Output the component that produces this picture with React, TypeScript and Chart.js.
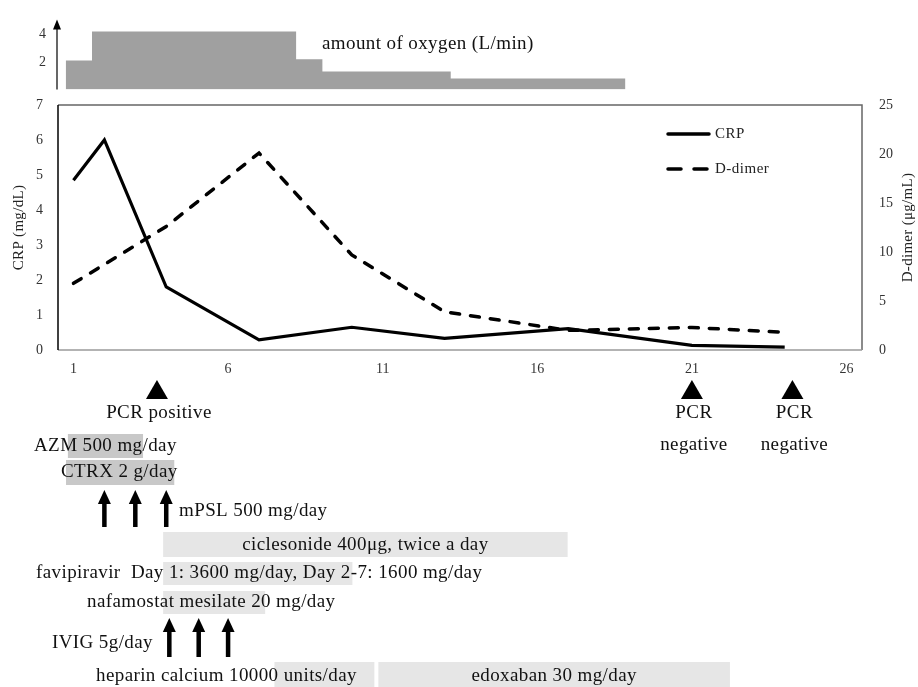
import React, { useEffect, useRef } from "react";
import { Chart, registerables } from "chart.js";
Chart.register(...registerables);

// ---------- data ----------
const CRP_DAYS = [1, 2, 4, 7, 10, 13, 17, 21, 24];
const CRP_VALUES = [4.85, 6.0, 1.8, 0.29, 0.65, 0.33, 0.61, 0.13, 0.08];
const DDIMER_DAYS = [1, 4, 7, 10, 13, 17, 21, 24];
const DDIMER_VALUES = [6.8, 12.6, 20.1, 9.7, 3.9, 2.0, 2.3, 1.8];
const X_TICKS = [1, 6, 11, 16, 21, 26];
const CRP_TICKS = [0, 1, 2, 3, 4, 5, 6, 7];
const DDIMER_TICKS = [0, 5, 10, 15, 20, 25];

// oxygen (L/min): step edges in days and level held from each edge
const O2_EDGES = [0.75, 1.6, 8.2, 9.05, 13.2, 18.85];
const O2_VALUES = [2.1, 4.2, 2.2, 1.3, 0.8, 0.8];
const O2_TICKS = [2, 4];

const PCR_DAYS = [3.7, 21.0, 24.25];
const PCR_LABELS = [["PCR positive"], ["PCR", "negative"], ["PCR", "negative"]];

const MPSL_DAYS = [2, 3, 4];
const IVIG_DAYS = [4.1, 5.05, 6.0];

const THERAPY_TEXT = [
  "AZM 500 mg/day",
  "CTRX 2 g/day",
  "ciclesonide 400\u03bcg, twice a day",
  "favipiravir  Day 1: 3600 mg/day, Day 2-7: 1600 mg/day",
  "nafamostat mesilate 20 mg/day",
  "heparin calcium 10000 units/day",
  "edoxaban 30 mg/day",
];
const THERAPY_START = [0.82, 0.76, 3.9, 3.9, 3.9, 7.5, 10.86];
const THERAPY_END = [3.25, 4.26, 16.98, 10.02, 7.2, 10.73, 22.23];

// ---------- layout / style ----------
const FONT = '"Liberation Serif", "Times New Roman", serif';
const ANN_FONT = `19px ${FONT}`;
const ANN_SPACING = "0.4px";
const THERAPY_LAYOUT = [
  { top: 434, bottom: 458, textX: 34, textY: 446, fill: "#c8c8c8" },
  { top: 460, bottom: 485, textX: 61, textY: 472, fill: "#c8c8c8" },
  { top: 532, bottom: 557, textX: null, textY: 545, fill: "#e6e6e6" },
  { top: 562, bottom: 585, textX: 36, textY: 573, fill: "#e6e6e6" },
  { top: 591, bottom: 614, textX: 87, textY: 602, fill: "#e6e6e6" },
  { top: 662, bottom: 687, textX: 96, textY: 676, fill: "#e6e6e6" },
  { top: 662, bottom: 687, textX: null, textY: 676, fill: "#e6e6e6" },
];

function drawArrow(ctx: CanvasRenderingContext2D, x: number, top: number, bottom: number) {
  const headW = 13, headH = 14, shaft = 4.5;
  ctx.fillStyle = "#000";
  ctx.fillRect(x - shaft / 2, top + headH - 1, shaft, bottom - top - headH + 1);
  ctx.beginPath();
  ctx.moveTo(x, top);
  ctx.lineTo(x + headW / 2, top + headH);
  ctx.lineTo(x - headW / 2, top + headH);
  ctx.closePath();
  ctx.fill();
}

const mainAnnotations = {
  id: "mainAnnotations",
  afterDraw(chart: any) {
    const { ctx, chartArea: a, scales } = chart;
    const xs = scales.x;
    ctx.save();
    // plot frame
    ctx.lineWidth = 1.5;
    ctx.strokeStyle = "#666";
    ctx.beginPath();
    ctx.moveTo(a.left, a.top);
    ctx.lineTo(a.right, a.top);
    ctx.lineTo(a.right, a.bottom);
    ctx.stroke();
    ctx.strokeStyle = "#9a9a9a";
    ctx.beginPath();
    ctx.moveTo(a.left, a.bottom);
    ctx.lineTo(a.right, a.bottom);
    ctx.stroke();
    ctx.strokeStyle = "#000";
    ctx.beginPath();
    ctx.moveTo(a.left, a.top);
    ctx.lineTo(a.left, a.bottom);
    ctx.stroke();

    // legend
    const lx1 = a.left + 610, lx2 = a.left + 651;
    ctx.lineWidth = 3.5;
    ctx.lineCap = "round";
    ctx.strokeStyle = "#000";
    ctx.beginPath();
    ctx.moveTo(lx1, a.top + 29);
    ctx.lineTo(lx2, a.top + 29);
    ctx.stroke();
    ctx.setLineDash([13, 13]);
    ctx.beginPath();
    ctx.moveTo(lx1, a.top + 64);
    ctx.lineTo(lx2, a.top + 64);
    ctx.stroke();
    ctx.setLineDash([]);
    ctx.fillStyle = "#222";
    ctx.font = `15px ${FONT}`;
    (ctx as any).letterSpacing = "0.5px";
    ctx.textAlign = "left";
    ctx.textBaseline = "middle";
    ctx.fillText("CRP", lx2 + 6, a.top + 29);
    ctx.fillText("D-dimer", lx2 + 6, a.top + 64);

    // axis titles
    const midY = (a.top + a.bottom) / 2;
    (ctx as any).letterSpacing = "0.3px";
    ctx.textAlign = "center";
    ctx.save();
    ctx.translate(19, midY);
    ctx.rotate(-Math.PI / 2);
    ctx.fillText("CRP (mg/dL)", 0, 0);
    ctx.restore();
    ctx.save();
    ctx.translate(908, midY);
    ctx.rotate(-Math.PI / 2);
    ctx.fillText("D-dimer (\u03bcg/mL)", 0, 0);
    ctx.restore();

    // therapy boxes
    THERAPY_TEXT.forEach((_, i) => {
      const L = THERAPY_LAYOUT[i];
      const x1 = xs.getPixelForValue(THERAPY_START[i]);
      const x2 = xs.getPixelForValue(THERAPY_END[i]);
      ctx.fillStyle = L.fill;
      ctx.fillRect(x1, L.top, x2 - x1, L.bottom - L.top);
    });
    ctx.fillStyle = "#111";
    ctx.font = ANN_FONT;
    (ctx as any).letterSpacing = ANN_SPACING;
    THERAPY_TEXT.forEach((t, i) => {
      const L = THERAPY_LAYOUT[i];
      if (L.textX === null) {
        const x1 = xs.getPixelForValue(THERAPY_START[i]);
        const x2 = xs.getPixelForValue(THERAPY_END[i]);
        ctx.textAlign = "center";
        ctx.fillText(t, (x1 + x2) / 2, L.textY);
      } else {
        ctx.textAlign = "left";
        ctx.fillText(t, L.textX, L.textY);
      }
    });

    // PCR triangles
    PCR_DAYS.forEach((d, i) => {
      const px = xs.getPixelForValue(d);
      ctx.fillStyle = "#000";
      ctx.beginPath();
      ctx.moveTo(px, 380);
      ctx.lineTo(px + 11, 399);
      ctx.lineTo(px - 11, 399);
      ctx.closePath();
      ctx.fill();
      ctx.fillStyle = "#111";
      ctx.textAlign = "center";
      PCR_LABELS[i].forEach((s, j) => ctx.fillText(s, px + 2, 413 + j * 32));
    });

    // mPSL arrows
    MPSL_DAYS.forEach((d) => drawArrow(ctx, xs.getPixelForValue(d), 490, 527));
    ctx.fillStyle = "#111";
    ctx.textAlign = "left";
    ctx.fillText("mPSL 500 mg/day", 179, 511);

    // IVIG arrows
    IVIG_DAYS.forEach((d) => drawArrow(ctx, xs.getPixelForValue(d), 618, 657));
    ctx.fillStyle = "#111";
    ctx.textAlign = "left";
    ctx.fillText("IVIG 5g/day", 52, 643);

    ctx.restore();
  },
};

const o2Annotations = {
  id: "o2Annotations",
  afterDraw(chart: any) {
    const { ctx, chartArea: a } = chart;
    ctx.save();
    const x = a.left - 1;
    ctx.strokeStyle = "#000";
    ctx.lineWidth = 1.2;
    ctx.beginPath();
    ctx.moveTo(x, a.bottom);
    ctx.lineTo(x, a.top + 6);
    ctx.stroke();
    ctx.fillStyle = "#000";
    ctx.beginPath();
    ctx.moveTo(x, a.top - 1);
    ctx.lineTo(x + 4, a.top + 9);
    ctx.lineTo(x - 4, a.top + 9);
    ctx.closePath();
    ctx.fill();
    ctx.fillStyle = "#111";
    ctx.font = ANN_FONT;
    (ctx as any).letterSpacing = ANN_SPACING;
    ctx.textAlign = "left";
    ctx.textBaseline = "middle";
    ctx.fillText("amount of oxygen (L/min)", 322, 44);
    ctx.restore();
  },
};

export default function App() {
  const mainRef = useRef<HTMLCanvasElement | null>(null);
  const o2Ref = useRef<HTMLCanvasElement | null>(null);

  useEffect(() => {
    const tickFont = { family: FONT, size: 14 };
    const main = new Chart(mainRef.current as HTMLCanvasElement, {
      type: "line",
      data: {
        datasets: [
          {
            label: "CRP",
            data: CRP_DAYS.map((d, i) => ({ x: d, y: CRP_VALUES[i] })),
            borderColor: "#000",
            borderWidth: 3.2,
            pointRadius: 0,
            tension: 0,
            fill: false,
            yAxisID: "y",
          },
          {
            label: "D-dimer",
            data: DDIMER_DAYS.map((d, i) => ({ x: d, y: DDIMER_VALUES[i] })),
            borderColor: "#000",
            borderWidth: 3.5,
            borderDash: [9, 11],
            borderCapStyle: "round",
            pointRadius: 0,
            tension: 0,
            fill: false,
            yAxisID: "y1",
          },
        ],
      },
      options: {
        responsive: false,
        animation: false,
        events: [],
        layout: { padding: { top: 105, bottom: 307, left: 0, right: 0 } },
        plugins: { legend: { display: false }, tooltip: { enabled: false } },
        scales: {
          x: {
            type: "linear",
            min: 0.5,
            max: 26.5,
            afterBuildTicks: (s: any) => {
              s.ticks = X_TICKS.map((v) => ({ value: v }));
            },
            afterFit: (s: any) => {
              s.height = 30;
            },
            grid: { display: false, drawTicks: false },
            border: { display: false },
            ticks: { font: tickFont, color: "#333", padding: 11, maxRotation: 0, autoSkip: false },
          },
          y: {
            position: "left",
            min: 0,
            max: 7,
            afterBuildTicks: (s: any) => {
              s.ticks = CRP_TICKS.map((v) => ({ value: v }));
            },
            afterFit: (s: any) => {
              s.width = 58;
            },
            grid: { display: false, drawTicks: false },
            border: { display: false },
            ticks: { font: tickFont, color: "#333", padding: 15 },
          },
          y1: {
            position: "right",
            min: 0,
            max: 25,
            afterBuildTicks: (s: any) => {
              s.ticks = DDIMER_TICKS.map((v) => ({ value: v }));
            },
            afterFit: (s: any) => {
              s.width = 56;
            },
            grid: { display: false, drawTicks: false },
            border: { display: false },
            ticks: { font: tickFont, color: "#333", padding: 17 },
          },
        },
      },
      plugins: [mainAnnotations],
    } as any);

    const o2 = new Chart(o2Ref.current as HTMLCanvasElement, {
      type: "line",
      data: {
        datasets: [
          {
            label: "oxygen",
            data: O2_EDGES.map((d, i) => ({ x: d, y: O2_VALUES[i] })),
            stepped: true,
            fill: { value: 0 },
            backgroundColor: "#a0a0a0",
            borderColor: "rgba(0,0,0,0)",
            borderWidth: 0,
            pointRadius: 0,
          },
        ],
      },
      options: {
        responsive: false,
        animation: false,
        events: [],
        layout: { padding: { top: 19, bottom: 11, left: 0, right: 56 } },
        plugins: { legend: { display: false }, tooltip: { enabled: false } },
        scales: {
          x: { type: "linear", min: 0.5, max: 26.5, display: false },
          y: {
            min: 0,
            max: 5,
            afterBuildTicks: (s: any) => {
              s.ticks = O2_TICKS.map((v) => ({ value: v }));
            },
            afterFit: (s: any) => {
              s.width = 58;
            },
            grid: { display: false, drawTicks: false },
            border: { display: false },
            ticks: { font: tickFont, color: "#333", padding: 12 },
          },
        },
      },
      plugins: [o2Annotations],
    } as any);

    return () => {
      main.destroy();
      o2.destroy();
    };
  }, []);

  return (
    <div style={{ position: "fixed", left: 0, top: 0, width: 918, height: 687, background: "#fff" }}>
      <canvas ref={mainRef} width={918} height={687} style={{ position: "absolute", left: 0, top: 0 }} />
      <canvas ref={o2Ref} width={918} height={110} style={{ position: "absolute", left: 0, top: 0 }} />
    </div>
  );
}
